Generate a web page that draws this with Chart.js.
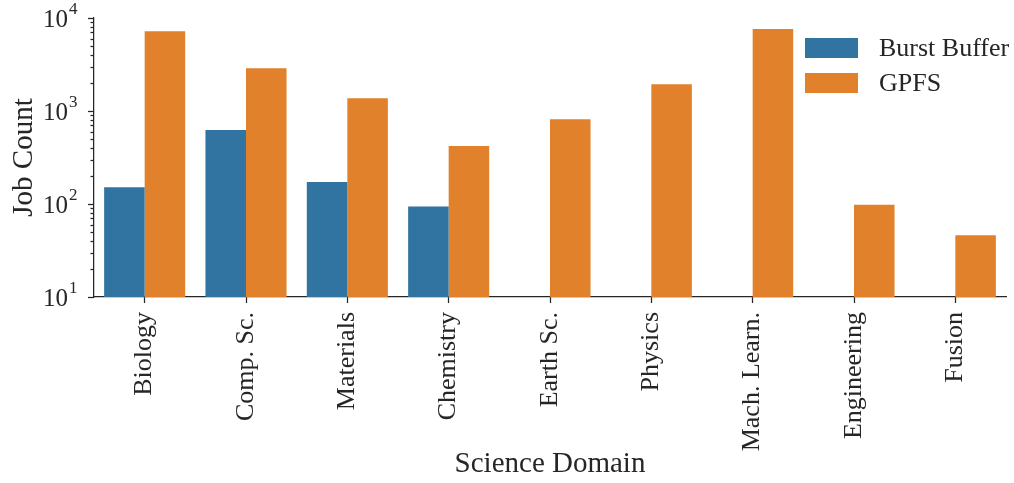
<!DOCTYPE html>
<html>
<head>
<meta charset="utf-8">
<script src="https://cdn.jsdelivr.net/npm/chart.js@4/dist/chart.umd.min.js"></script>
<style>
  html, body { margin: 0; padding: 0; background: #ffffff; }
  #wrap { width: 1014px; height: 483px; }
</style>
</head>
<body>
<div id="wrap"><canvas id="c" width="1014" height="483"></canvas></div>
<script>
// Job counts per science domain, by storage target
const categories = ['Biology', 'Comp. Sc.', 'Materials', 'Chemistry', 'Earth Sc.', 'Physics', 'Mach. Learn.', 'Engineering', 'Fusion'];
const burstBuffer = [151, 625, 172, 94, null, null, null, null, null];
const gpfs = [7200, 2880, 1370, 420, 815, 1940, 7600, 98, 46];

// Decade ticks on the log axis, shown as 10 with a raised exponent
const yMajorTicks = [10, 100, 1000, 10000];
const yMajorExponents = ['1', '2', '3', '4'];
const yMinorMultipliers = [2, 3, 4, 5, 6, 7, 8, 9];

const seriesNames = ['Burst Buffer', 'GPFS'];
const seriesColors = ['#3274a1', '#e1812c'];

const SERIF = '"Liberation Serif", "DejaVu Serif", serif';
const INK = '#262626';

// Draws the y axis ticks (major + minor), the exponent labels and the legend
const axisDecor = {
  id: 'axisDecor',
  afterDraw(chart) {
    const ctx = chart.ctx;
    const y = chart.scales.y;
    const x0 = chart.chartArea.left;
    ctx.save();
    ctx.strokeStyle = INK;
    ctx.lineWidth = 1.25;
    // minor ticks
    for (let i = 0; i < yMajorTicks.length - 1; i++) {
      for (const m of yMinorMultipliers) {
        const py = Math.round(y.getPixelForValue(yMajorTicks[i] * m)) + 0.5;
        ctx.beginPath();
        ctx.moveTo(x0 - 3.5, py);
        ctx.lineTo(x0, py);
        ctx.stroke();
      }
    }
    // major ticks and labels
    ctx.fillStyle = INK;
    yMajorTicks.forEach((v, i) => {
      const py = y.getPixelForValue(v);
      ctx.beginPath();
      ctx.moveTo(x0 - 6, Math.round(py) + 0.5);
      ctx.lineTo(x0, Math.round(py) + 0.5);
      ctx.stroke();
      ctx.font = '25px ' + SERIF;
      ctx.textAlign = 'right';
      ctx.textBaseline = 'alphabetic';
      ctx.fillText('10', x0 - 26, py + 8.5);
      ctx.font = '17px ' + SERIF;
      ctx.textAlign = 'left';
      ctx.fillText(yMajorExponents[i], x0 - 25, py - 4);
    });

    // legend
    const lx = 805, ly = 38, boxW = 53, boxH = 20, rowH = 35;
    chart.data.datasets.forEach((ds, i) => {
      const top = ly + i * rowH;
      ctx.fillStyle = ds.backgroundColor;
      ctx.fillRect(lx, top, boxW, boxH);
      ctx.fillStyle = INK;
      ctx.font = '26px ' + SERIF;
      ctx.textAlign = 'left';
      ctx.textBaseline = 'middle';
      ctx.fillText(ds.label, lx + 74, top + boxH / 2 + 1);
    });
    ctx.restore();
  }
};

new Chart(document.getElementById('c'), {
  type: 'bar',
  data: {
    labels: categories,
    datasets: [
      { label: seriesNames[0], data: burstBuffer, backgroundColor: seriesColors[0] },
      { label: seriesNames[1], data: gpfs, backgroundColor: seriesColors[1] }
    ]
  },
  options: {
    responsive: false,
    animation: false,
    devicePixelRatio: 1,
    layout: { padding: { top: 18, right: 8, left: 0, bottom: 0 } },
    datasets: { bar: { categoryPercentage: 0.8, barPercentage: 1.0, borderWidth: 0 } },
    plugins: { legend: { display: false }, tooltip: { enabled: false } },
    scales: {
      x: {
        type: 'category',
        grid: { display: true, drawOnChartArea: false, offset: false, tickLength: 6, tickColor: INK, tickWidth: 1.25 },
        border: { display: true, color: INK, width: 1.25 },
        ticks: {
          autoSkip: false, minRotation: 90, maxRotation: 90, padding: 9,
          color: INK, font: { family: SERIF, size: 26 }
        },
        title: {
          display: true, text: 'Science Domain', color: INK,
          font: { family: SERIF, size: 29 }, padding: { top: 0, bottom: 1 }
        },
        afterFit(scale) { scale.height = 186; }
      },
      y: {
        type: 'logarithmic',
        min: 10, max: 10000,
        grid: { display: false },
        border: { display: true, color: INK, width: 1.25 },
        ticks: { display: false },
        title: {
          display: true, text: 'Job Count', color: INK,
          font: { family: SERIF, size: 29 }, padding: { top: 7, bottom: 0 }
        },
        afterFit(scale) { scale.width = 94; }
      }
    }
  },
  plugins: [axisDecor]
});
</script>
</body>
</html>
